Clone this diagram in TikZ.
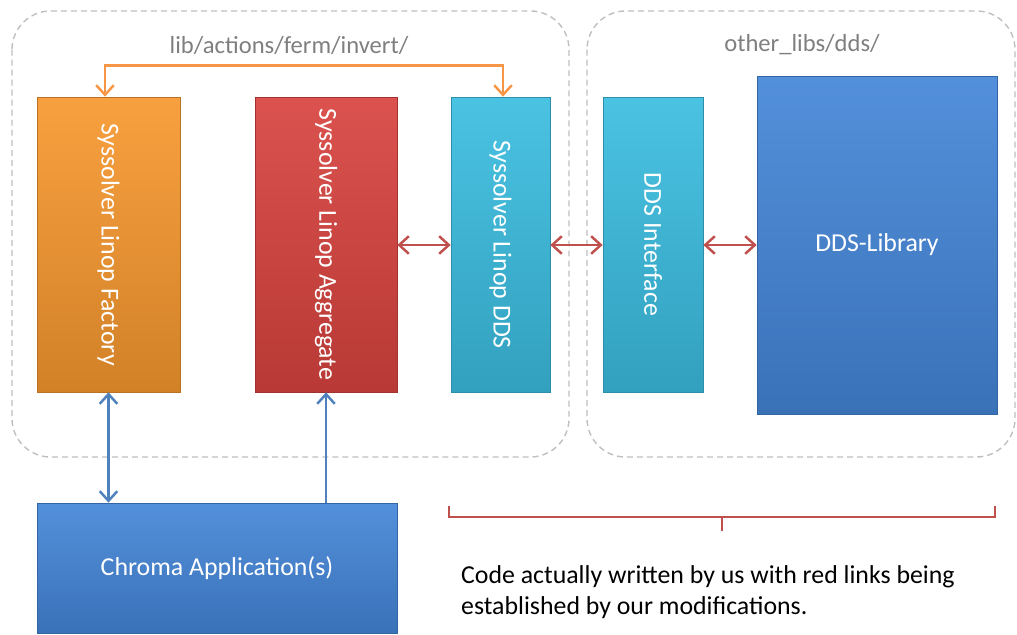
\documentclass[tikz,border=0pt]{standalone}
\usepackage{fontspec}
\setmainfont{Carlito}
\usetikzlibrary{positioning, arrows.meta}

\definecolor{grouplinegray}{HTML}{BFBFBF}
\definecolor{grouptextgray}{HTML}{7F7F7F}
\definecolor{boxorange}{HTML}{F7982F}
\definecolor{boxred}{HTML}{D8433F}
\definecolor{boxcyan}{HTML}{3BBDE0}
\definecolor{boxblue}{HTML}{4486D8}
\definecolor{linkorange}{HTML}{F79646}
\definecolor{linkred}{HTML}{C0504D}
\definecolor{linkblue}{HTML}{4F81BD}

\begin{document}
\begin{tikzpicture}[
        x=0.02cm, y=-0.02cm,
        font=\fontsize{14.7}{17}\selectfont,
        group/.style={
            draw=grouplinegray,
            dash pattern=on 3.4pt off 2.3pt,
            line width=0.8pt,
            rounded corners=22pt
        },
        grouplabel/.style={
            text=grouptextgray,
            font=\fontsize{14}{16}\selectfont
        },
        block/.style={
            rectangle,
            draw=#1!75!black,
            line width=0.4pt,
            top color=#1!92!white,
            bottom color=#1!85!black,
            text=white,
            text centered,
            align=center,
            inner sep=0pt
        },
        tall/.style={minimum height=5.9cm},
        link/.style={line width=1.4pt, {Straight Barb[length=5.5pt,width=10pt]}-{Straight Barb[length=5.5pt,width=10pt]}},
        uplink/.style={line width=1.4pt, -{Straight Barb[length=5.5pt,width=10pt]}},
        note/.style={align=left, font=\fontsize{14.7}{18}\selectfont}
    ]
        \useasboundingbox (0,0) rectangle (1017,635);

        % Groups
        \draw [group] (12,11) rectangle (569,457);
        \draw [group] (587,11) rectangle (1015,457);
        \node [grouplabel] (invdir) at (289,45) {lib/actions/ferm/invert/};
        \node [grouplabel] (ddsdir) at (802,45) {other\_libs/dds/};

        % Nodes
        \node [block=boxorange, tall, minimum width=2.86cm] (factory) at (108.5,244.5)
            {\rotatebox{-90}{Syssolver Linop Factory}};
        \node [block=boxred, tall, minimum width=2.84cm] (aggregate) at (326,244.5)
            {\rotatebox{-90}{Syssolver Linop Aggregate}};
        \node [block=boxcyan, tall, minimum width=1.98cm] (ddslinop) at (500.5,244.5)
            {\rotatebox{-90}{Syssolver Linop DDS}};
        \node [block=boxcyan, tall, minimum width=2cm] (ddsif) at (653,244.5)
            {\rotatebox{-90}{DDS Interface}};
        \node [block=boxblue, minimum width=4.8cm, minimum height=6.76cm] (ddslib) at (877,245)
            {DDS-Library};
        \node [block=boxblue, minimum width=7.2cm, minimum height=2.6cm] (chroma) at (217,568)
            {Chroma Application(s)};

        % Paths
        \draw [link, linkorange] ([xshift=-0.07cm]factory.north) -- ++(0,-31)
            -| ([xshift=0.05cm]ddslinop.north);
        \draw [link, linkred] (aggregate.east |- ddslib) -- (ddslinop.west |- ddslib);
        \draw [link, linkred] (ddslinop.east |- ddslib) -- (ddsif.west |- ddslib);
        \draw [link, linkred] (ddsif.east |- ddslib) -- (ddslib.west);
        \draw [link, linkblue] (factory.south) -- (factory.south |- chroma.north);
        \draw [uplink, linkblue] (chroma.north -| aggregate.south) -- (aggregate.south);

        % Bracket and note
        \coordinate (brleft) at (449,506);
        \coordinate (brright) at (995,506);
        \coordinate (brmid) at (722,517);
        \draw [linkred, line width=1.1pt] (brleft) -- ++(0,11) -| (brright);
        \draw [linkred, line width=1.1pt] (brmid) -- ++(0,14);
        \node [note, anchor=west] (note) at (455,592)
            {Code actually written by us with red links being\\established by our modifications.};
    \end{tikzpicture}
\end{document}
